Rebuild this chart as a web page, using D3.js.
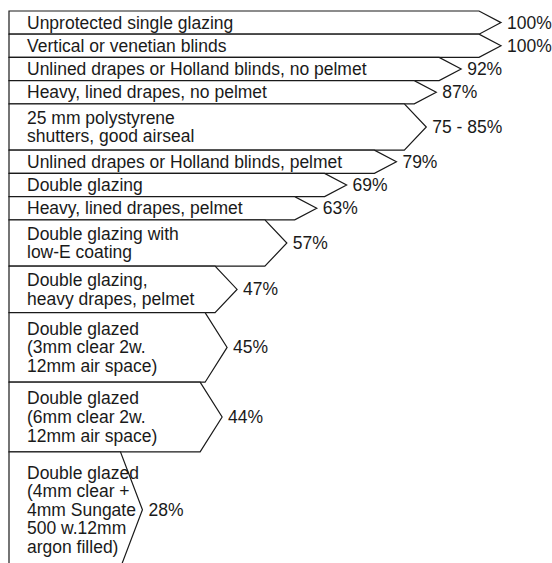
<!DOCTYPE html>
<html>
<head>
<meta charset="utf-8">
<script src="https://cdn.jsdelivr.net/npm/d3@7"></script>
<style>
  body { margin: 0; background: #fff; }
  text { font-family: "Liberation Sans", Arial, sans-serif; fill: #1a1a1a; }
</style>
</head>
<body>
<div id="chart"></div>
<script>
// window treatments, relative heat loss through the window
var categories = [
  "Unprotected single glazing",
  "Vertical or venetian blinds",
  "Unlined drapes or Holland blinds, no pelmet",
  "Heavy, lined drapes, no pelmet",
  "25 mm polystyrene|shutters, good airseal",
  "Unlined drapes or Holland blinds, pelmet",
  "Double glazing",
  "Heavy, lined drapes, pelmet",
  "Double glazing with|low-E coating",
  "Double glazing,|heavy drapes, pelmet",
  "Double glazed|(3mm clear 2w.|12mm air space)",
  "Double glazed|(6mm clear 2w.|12mm air space)",
  "Double glazed|(4mm clear +|4mm Sungate|500 w.12mm|argon filled)"
];
var values = [100, 100, 92, 87, 85, 79, 69, 63, 57, 47, 45, 44, 28];
var valueLabels = ["100%", "100%", "92%", "87%", "75 - 85%", "79%", "69%", "63%", "57%", "47%", "45%", "44%", "28%"];

var width = 552;
var height = 563;
var leftX = 9;
var topY = 11;
var lineH = 23.2;
var depth = 22;

var svg = d3.select("#chart").
append("svg").
attr("width", width).
attr("height", height);

var rows = categories.map(function (c, i) {
  return {lines: c.split("|"), value: values[i], label: valueLabels[i]};
});

var start = 0;
rows.forEach(function (r) {
  r.start = start;
  start += r.lines.length;
  r.end = start;
});

var xScale = d3.scaleLinear().domain([0, 100]).range([3, 501]);
var yScale = d3.scaleLinear().domain([0, start]).range([topY, topY + start * lineH]);

var g = svg.selectAll("g.row").
data(rows).
enter().
append("g").
attr("class", "row");

g.append("path").
attr("d", function (d) {
  var y0 = yScale(d.start), y1 = yScale(d.end), tip = xScale(d.value);
  return "M" + leftX + "," + y0 +
  "L" + (tip - depth) + "," + y0 +
  "L" + tip + "," + (y0 + y1) / 2 +
  "L" + (tip - depth) + "," + y1 +
  "L" + leftX + "," + y1 + "Z";
}).
attr("fill", "#fff").
attr("stroke", "#1a1a1a").
attr("stroke-width", 1.2).
attr("stroke-linejoin", "miter");

g.each(function (d) {
  var mid = (yScale(d.start) + yScale(d.end)) / 2;
  var n = d.lines.length;
  var t = d3.select(this).append("text").
  attr("x", 27).
  style("font-size", "17.5px");
  d.lines.forEach(function (line, k) {
    t.append("tspan").
    attr("x", 27).
    attr("y", mid + 6 + (k - (n - 1) / 2) * 18.6).
    text(line);
  });
  d3.select(this).append("text").
  attr("x", xScale(d.value) + 6).
  attr("y", mid + 6).
  style("font-size", "17.5px").
  text(d.label);
});
</script>
</body>
</html>
